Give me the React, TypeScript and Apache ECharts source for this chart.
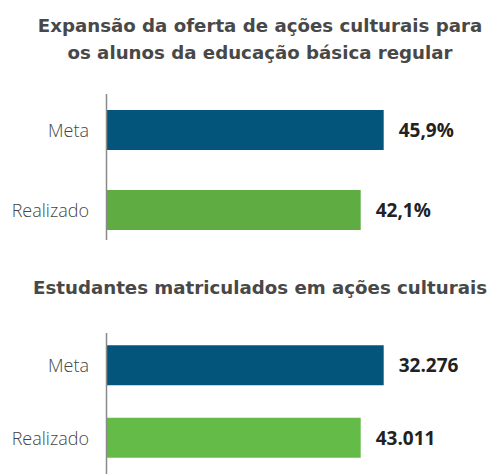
import React, { useEffect, useRef } from "react";
import * as echarts from "echarts";

// Chart 1: Expansão da oferta de ações culturais (%)
const categories = ["Meta", "Realizado"];
const offerValues = [45.9, 42.1];

// Chart 2: Estudantes matriculados em ações culturais
const studentValues = [32276, 43011];
// In the source picture these bars are drawn with the same lengths as chart 1 (not to scale)
const studentBarLengths = [45.9, 42.1];

const title1 = "Expansão da oferta de ações culturais para\nos alunos da educação básica regular";
const title2 = "Estudantes matriculados em ações culturais";

const NAVY = "#03557c";
const GREEN1 = "#5eac42";
const GREEN2 = "#65bb48";

export default function App() {
  const ref = useRef<HTMLDivElement>(null);
  useEffect(() => {
    if (!ref.current) return;
    const chart = echarts.init(ref.current, undefined, { renderer: "svg" });
    const fmtPct = (v: number) => v.toFixed(1).replace(".", ",") + "%";
    const fmtInt = (v: number) => v.toLocaleString("pt-BR");
    const catLabel = {
      fontFamily: "Open Sans",
      fontWeight: 300 as any,
      fontSize: 18,
      color: "#444",
      margin: 17,
    };
    const valueLabel = {
      show: true,
      position: "right" as const,
      distance: 13,
      offset: [2, 0],
      fontFamily: "Open Sans",
      fontWeight: "bold" as const,
      fontSize: 19,
      color: "#222",
    };
    const titleStyle = {
      fontFamily: "DejaVu Sans",
      fontWeight: "bold" as const,
      fontSize: 18.2,
      lineHeight: 27,
      color: "#484848",
    };
    const xMax = 60;
    const gridW = 363;
    chart.setOption({
      animation: false,
      backgroundColor: "#fff",
      title: [
        { text: title1, left: 255, top: 7, textAlign: "center", textStyle: titleStyle },
        { text: title2, left: 255, top: 269, textAlign: "center", textStyle: titleStyle },
      ],
      grid: [
        { left: 106, top: 90, width: gridW, height: 160 },
        { left: 106, top: 329, width: gridW, height: 161 },
      ],
      xAxis: [
        { type: "value", gridIndex: 0, min: 0, max: xMax, show: false },
        { type: "value", gridIndex: 1, min: 0, max: xMax, show: false },
      ],
      yAxis: [0, 1].map((g) => ({
        type: "category",
        gridIndex: g,
        data: categories,
        inverse: true,
        axisLine: { show: false },
        axisTick: { show: false },
        axisLabel: catLabel,
      })),
      graphic: [
        {
          type: "line",
          shape: { x1: 106.5, y1: 94, x2: 106.5, y2: 240 },
          style: { stroke: "#8a8a8a", lineWidth: 1.5 },
          z: 10,
        },
        {
          type: "line",
          shape: { x1: 106.5, y1: 333, x2: 106.5, y2: 474 },
          style: { stroke: "#8a8a8a", lineWidth: 1.5 },
          z: 10,
        },
      ],
      series: [
        {
          type: "bar",
          xAxisIndex: 0,
          yAxisIndex: 0,
          barWidth: 40,
          data: offerValues.map((v, i) => ({
            value: v,
            itemStyle: { color: i === 0 ? NAVY : GREEN1 },
          })),
          label: { ...valueLabel, formatter: (p: any) => fmtPct(p.value) },
        },
        {
          type: "bar",
          xAxisIndex: 1,
          yAxisIndex: 1,
          barWidth: 40,
          data: studentBarLengths.map((v, i) => ({
            value: v,
            itemStyle: { color: i === 0 ? NAVY : GREEN2 },
          })),
          label: {
            ...valueLabel,
            formatter: (p: any) => fmtInt(studentValues[p.dataIndex]),
          },
        },
      ],
    });
    return () => chart.dispose();
  }, []);
  return (
    <div
      ref={ref}
      style={{ position: "absolute", left: 0, top: 0, width: 489, height: 474 }}
    />
  );
}
